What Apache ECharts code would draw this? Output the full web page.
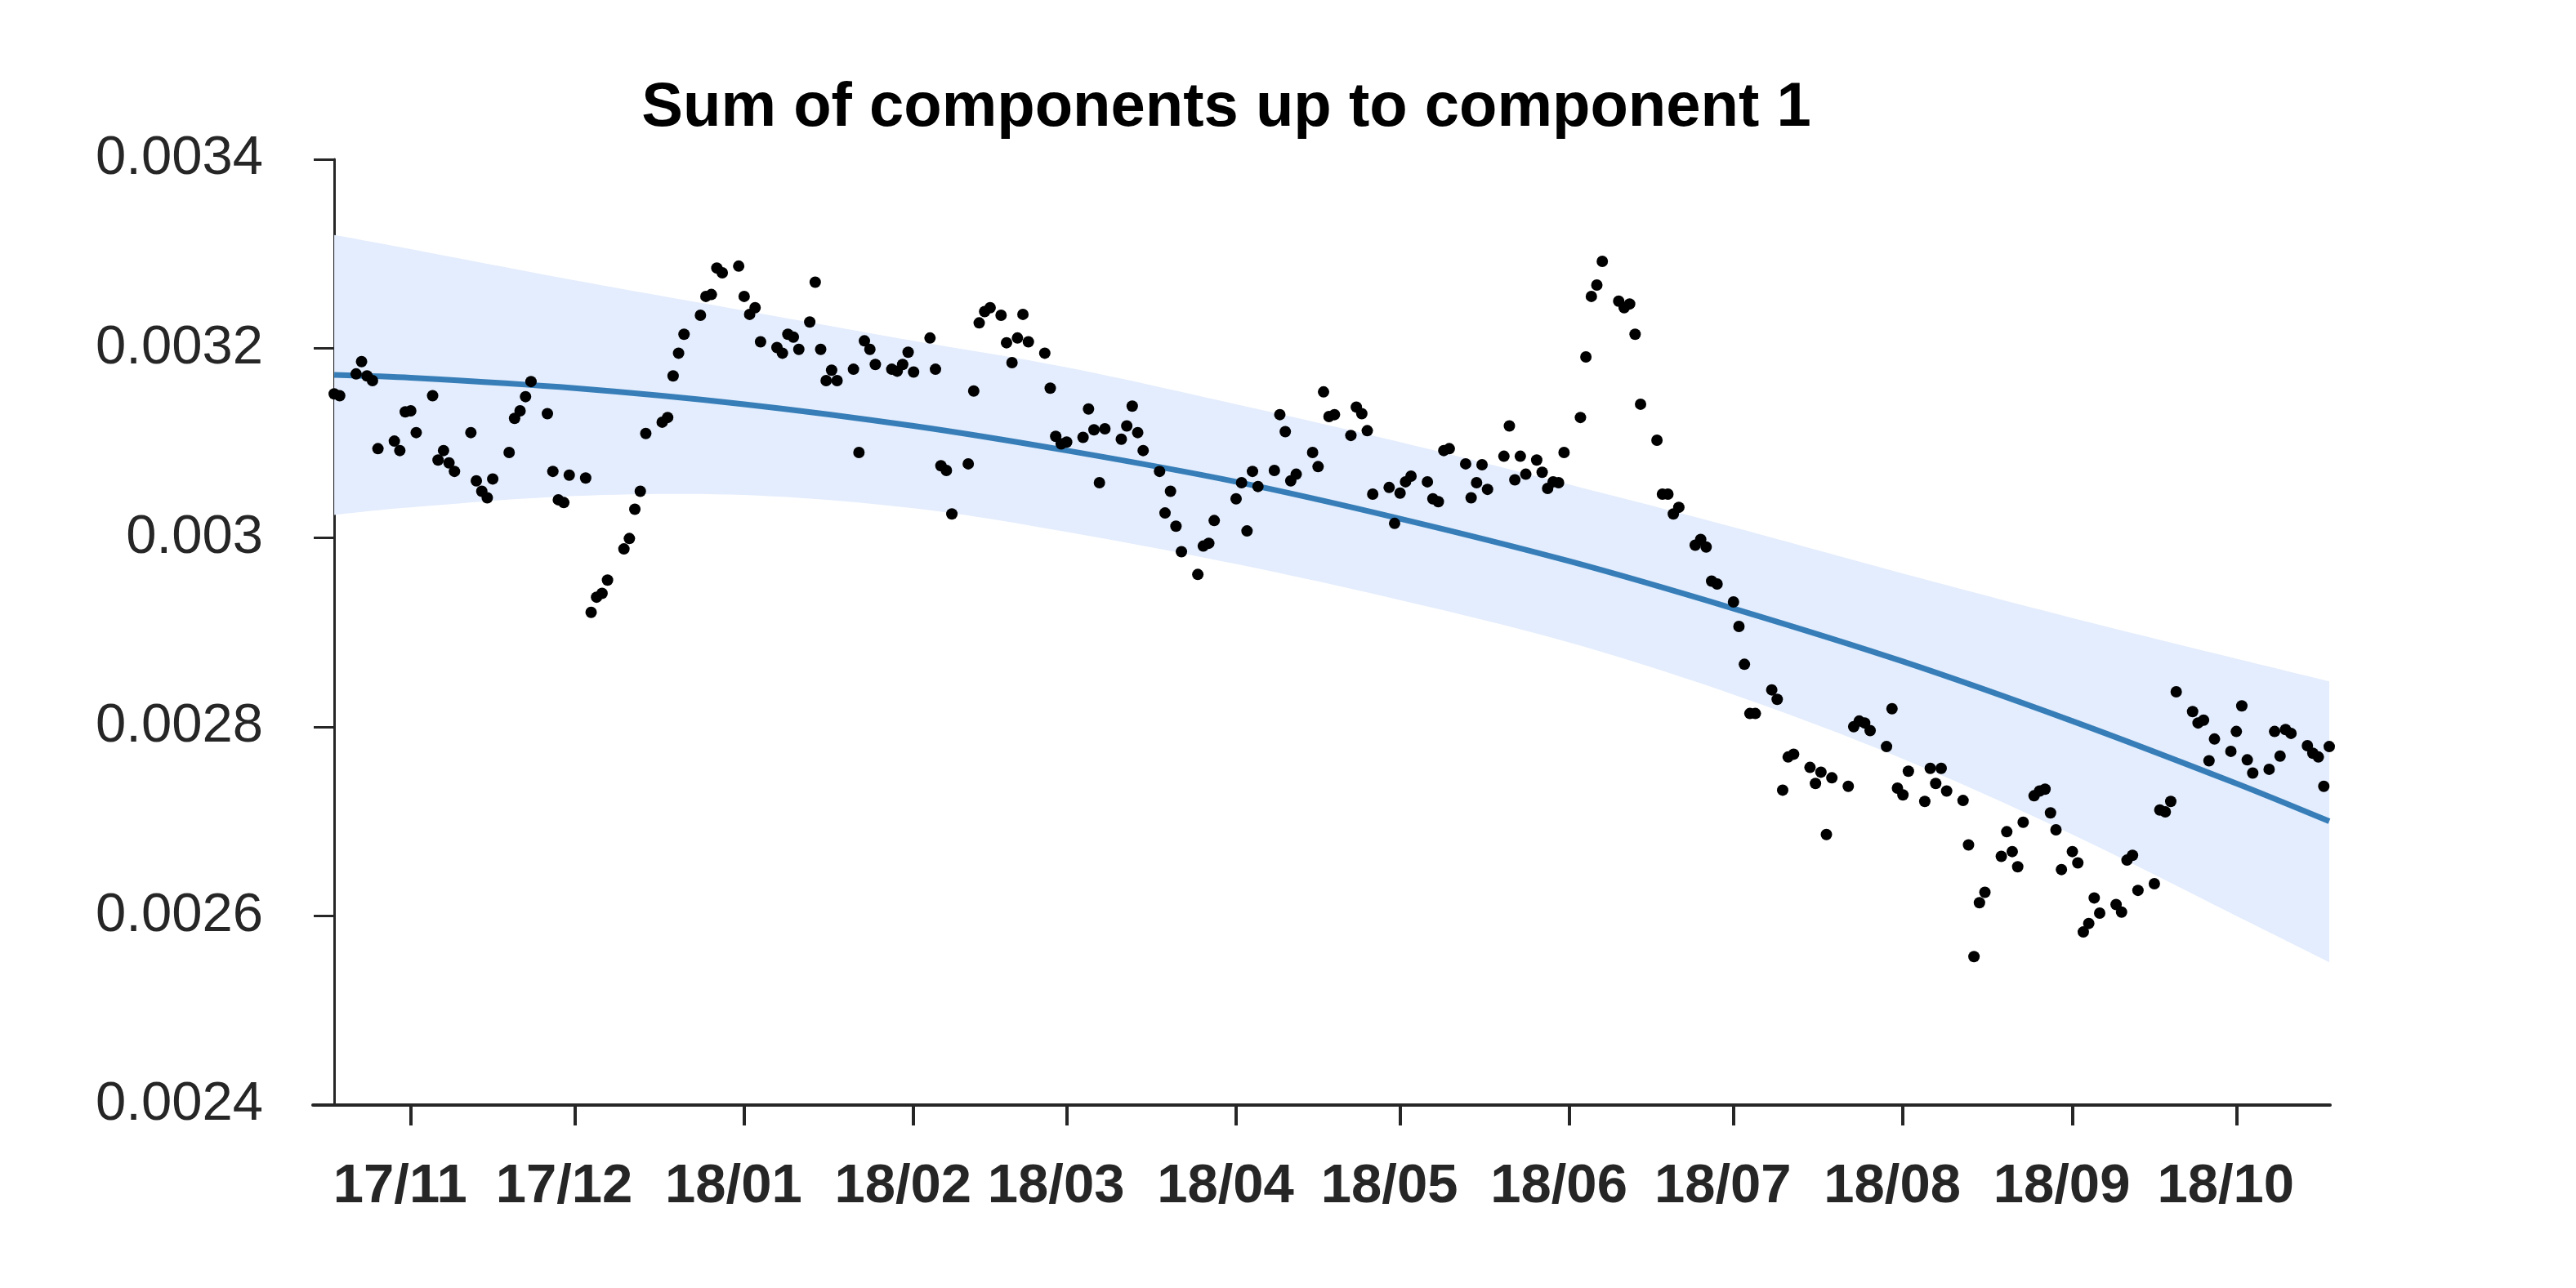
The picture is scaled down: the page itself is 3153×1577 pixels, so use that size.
<!DOCTYPE html>
<html>
<head>
<meta charset="utf-8">
<script src="https://cdn.jsdelivr.net/npm/echarts@6/dist/echarts.min.js"></script>
<style>
html,body{margin:0;padding:0;background:#fff;}
#chart{width:3153px;height:1577px;}
</style>
</head>
<body>
<div id="chart"></div>
<script>
// ---- data ----
const titleText = 'Sum of components up to component 1';
const startDate = [2017, 9, 18];           // first observation (2017-10-18)
const tickMonths = ['2017-11','2017-12','2018-01','2018-02','2018-03','2018-04','2018-05','2018-06','2018-07','2018-08','2018-09','2018-10'];
const yTicks = [0.0024, 0.0026, 0.0028, 0.003, 0.0032, 0.0034];

// observation day offsets from startDate
const pointDays = [0,1,4,5,6,7,8,11,12,13,14,15,18,19,20,21,22,25,26,27,28,29,32,33,34,35,36,39,40,41,42,43,46,47,48,49,50,53,54,55,56,57,60,61,62,63,64,67,68,69,70,71,74,75,76,77,78,81,82,83,84,85,87,88,89,90,91,92,95,96,97,98,99,102,103,104,105,106,109,110,111,112,113,116,117,118,119,120,122,123,124,125,126,127,130,131,132,133,134,137,138,139,140,141,144,145,146,147,148,151,152,153,154,155,158,159,160,161,165,166,167,168,169,172,173,174,175,176,179,180,181,182,183,186,187,188,189,190,193,194,195,196,197,200,201,202,203,204,207,208,209,210,211,214,215,216,217,218,220,221,222,223,224,225,228,229,230,231,232,235,236,237,238,239,242,243,244,245,246,249,250,251,252,253,256,257,258,259,260,263,264,265,266,267,270,271,272,273,274,277,278,279,280,281,284,285,286,287,288,291,292,293,294,295,298,299,300,301,302,305,306,307,308,309,311,312,313,314,315,316,318,319,320,321,322,323,326,327,328,329,330,333,334,335,336,337,340,341,342,343,344,347,348,349,350,351,354,355,356,357,358,361,362,363,364,365];
const pointValues = [
0.003152,0.003150,0.003173,0.003186,0.003171,0.003166,0.003094,0.003102,0.003092,0.003133,0.003134,0.003111,
0.003150,0.003082,0.003092,0.003079,0.003070,0.003111,0.003060,0.003049,0.003042,0.003062,0.003090,0.003126,
0.003134,0.003149,0.003165,0.003131,0.003070,0.003040,0.003037,0.003066,0.003063,0.002921,0.002937,0.002941,
0.002955,0.002988,0.002999,0.003030,0.003049,0.003110,0.003122,0.003127,0.003171,0.003195,0.003215,0.003235,
0.003255,0.003257,0.003285,0.003280,0.003287,0.003255,0.003236,0.003243,0.003207,0.003201,0.003195,0.003215,
0.003212,0.003199,0.003228,0.003270,0.003199,0.003166,0.003177,0.003166,0.003178,0.003090,0.003208,0.003199,
0.003183,0.003178,0.003176,0.003183,0.003196,0.003175,0.003211,0.003178,0.003076,0.003071,0.003025,0.003078,
0.003155,0.003227,0.003239,0.003243,0.003235,0.003206,0.003185,0.003211,0.003236,0.003207,0.003195,0.003158,
0.003107,0.003099,0.003101,0.003106,0.003136,0.003114,0.003058,0.003115,0.003104,0.003118,0.003139,0.003111,
0.003092,0.003070,0.003026,0.003049,0.003012,0.002985,0.002961,0.002991,0.002994,0.003018,0.003041,0.003058,
0.003007,0.003070,0.003054,0.003071,0.003130,0.003112,0.003060,0.003067,0.003090,0.003075,0.003154,0.003128,
0.003130,0.003108,0.003138,0.003131,0.003113,0.003046,0.003053,0.003015,0.003047,0.003059,0.003065,0.003059,
0.003041,0.003038,0.003092,0.003094,0.003078,0.003042,0.003058,0.003077,0.003051,0.003086,0.003118,0.003061,
0.003086,0.003067,0.003082,0.003069,0.003052,0.003059,0.003058,0.003090,0.003127,0.003191,0.003255,0.003267,
0.003292,0.003250,0.003243,0.003247,0.003215,0.003141,0.003103,0.003046,0.003046,0.003025,0.003032,0.002992,
0.002998,0.002990,0.002954,0.002951,0.002932,0.002906,0.002866,0.002814,0.002814,0.002839,0.002829,0.002733,
0.002768,0.002771,0.002757,0.002740,0.002752,0.002686,0.002746,0.002737,0.002800,0.002806,0.002804,0.002796,
0.002779,0.002819,0.002735,0.002728,0.002753,0.002721,0.002756,0.002740,0.002756,0.002732,0.002722,0.002675,
0.002557,0.002614,0.002625,0.002663,0.002689,0.002668,0.002652,0.002699,0.002727,0.002732,0.002734,0.002709,
0.002691,0.002649,0.002668,0.002656,0.002583,0.002592,0.002619,0.002603,0.002612,0.002604,0.002659,0.002664,
0.002627,0.002634,0.002712,0.002710,0.002721,0.002837,0.002816,0.002804,0.002807,0.002764,0.002787,0.002774,
0.002795,0.002822,0.002765,0.002751,0.002755,0.002795,0.002769,0.002797,0.002793,0.002780,0.002772,0.002768,
0.002737,0.002779];

// fitted component and its band, read at month boundaries
const curveDays  = [0, 14, 44, 75, 106, 134, 165, 195, 226, 256, 287, 318, 348, 365];
const curveMid   = [0.003172,0.003169,0.003158,0.003141,0.003118,0.003092,0.003059,0.003020,0.002975,0.002925,0.002869,0.002806,0.002740,0.002700];
const bandUpper  = [0.003320,0.003305,0.003272,0.003240,0.003208,0.003180,0.003141,0.003101,0.003056,0.003011,0.002962,0.002915,0.002872,0.002848];
const bandLower  = [0.003024,0.003032,0.003044,0.003045,0.003031,0.003006,0.002972,0.002934,0.002889,0.002834,0.002766,0.002686,0.002600,0.002551];

// ---- build ----
const DAY = 86400000;
function dayTime(d){ return new Date(startDate[0], startDate[1], startDate[2] + d).getTime(); }
const t0 = dayTime(0);
const xMin = t0 - 3.9 * DAY;          // axis line runs a little left of the y axis
const xMax = dayTime(365) + 0.15 * DAY;
const tickTimes = tickMonths.map(s => { const [y,m] = s.split('-').map(Number); return new Date(y, m-1, 1).getTime(); });

const points = pointDays.map((d,i) => [dayTime(d), pointValues[i]]);
const mid = curveDays.map((d,i) => [dayTime(d), curveMid[i]]);

// Catmull-Rom smoothing of already-projected pixel points (render helper only)
function smoothPx(pts, seg){
  const out = [];
  const n = pts.length;
  for (let i = 0; i < n - 1; i++){
    const p0 = pts[Math.max(i-1,0)], p1 = pts[i], p2 = pts[i+1], p3 = pts[Math.min(i+2,n-1)];
    for (let s = 0; s < seg; s++){
      const t = s/seg, t2 = t*t, t3 = t2*t;
      const f = k => 0.5*((2*p1[k]) + (-p0[k]+p2[k])*t + (2*p0[k]-5*p1[k]+4*p2[k]-p3[k])*t2 + (-p0[k]+3*p1[k]-3*p2[k]+p3[k])*t3);
      out.push([f(0), f(1)]);
    }
  }
  out.push(pts[n-1]);
  return out;
}

const axisColor = '#262626';
const chart = echarts.init(document.getElementById('chart'), null, {renderer:'canvas'});
chart.setOption({
  animation:false,
  backgroundColor:'#ffffff',
  title:{
    text:titleText, left:1496, top:90, textAlign:'center',
    textStyle:{fontFamily:'Liberation Sans, Arial, sans-serif', fontWeight:'bold', fontSize:76, lineHeight:76, color:'#000'}
  },
  grid:{left:383, right:301, top:195, bottom:224, containLabel:false},
  xAxis:{
    type:'value', min:xMin, max:xMax, scale:true,
    splitLine:{show:false},
    axisLine:{show:true, lineStyle:{color:axisColor, width:4}},
    axisTick:{show:true, inside:false, length:25, lineStyle:{color:axisColor, width:4}, customValues:tickTimes},
    axisLabel:{
      customValues:tickTimes,
      margin:67, padding:[0,26,0,0],
      fontFamily:'Liberation Sans, Arial, sans-serif', fontWeight:'bold', fontSize:67, color:axisColor,
      formatter:function(v){ const d=new Date(v); return String(d.getFullYear()%100).padStart(2,'0') + '/' + String(d.getMonth()+1).padStart(2,'0'); }
    }
  },
  yAxis:{
    type:'value', min:yTicks[0], max:yTicks[yTicks.length-1], interval:0.0002,
    offset:-26,
    splitLine:{show:false},
    axisLine:{show:true, lineStyle:{color:axisColor, width:3}},
    axisTick:{show:true, inside:false, length:25, lineStyle:{color:axisColor, width:3}},
    axisLabel:{
      margin:87, fontFamily:'Liberation Sans, Arial, sans-serif', fontSize:67, color:axisColor,
      formatter:function(v){ return String(parseFloat(v.toFixed(5))); }
    }
  },
  series:[
    {type:'custom', silent:true, z:1, clip:true,
     data:[[dayTime(curveDays[0]), bandUpper[0]]],
     renderItem:function(params, api){
       const up = smoothPx(curveDays.map((d,i) => api.coord([dayTime(d), bandUpper[i]])), 12);
       const lo = smoothPx(curveDays.map((d,i) => api.coord([dayTime(d), bandLower[i]])), 12).reverse();
       return {type:'polygon', shape:{points: up.concat(lo)}, style:{fill:'#e4edfd', stroke:null}};
     }},
    {type:'line', data:mid, symbol:'none', smooth:0.3, lineStyle:{color:'#377eb8', width:7}, z:2},
    {type:'scatter', data:points, symbol:'circle', symbolSize:14, itemStyle:{color:'#000', opacity:1}, z:3}
  ]
});
</script>
</body>
</html>
